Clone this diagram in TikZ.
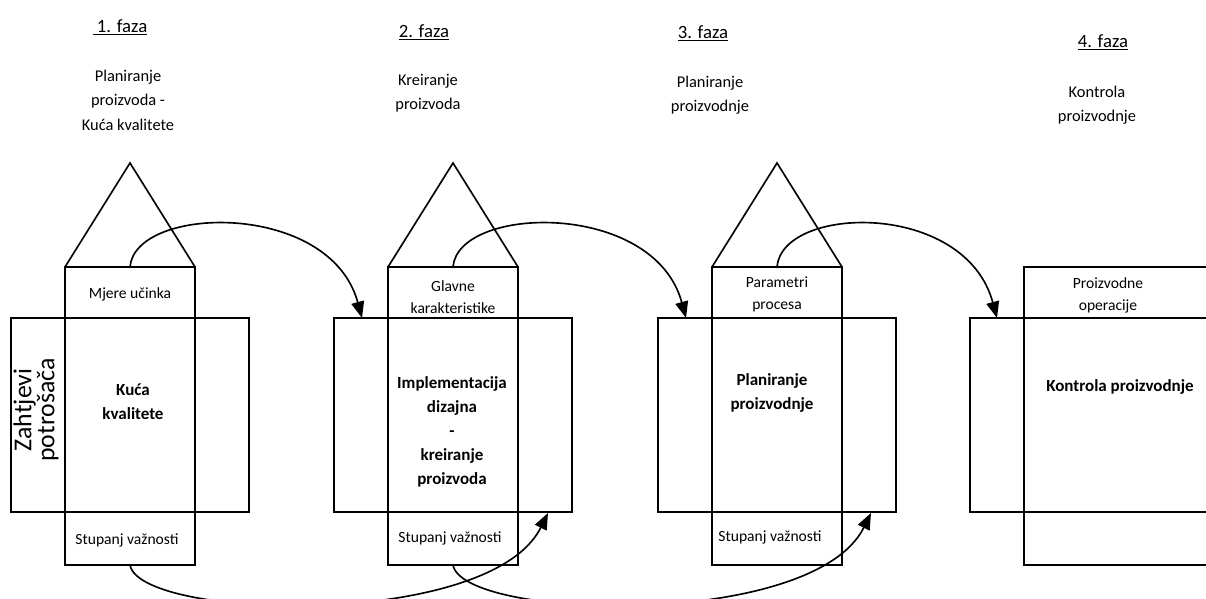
\documentclass[tikz,border=0pt]{standalone}
\usepackage{fontspec}
\setmainfont{Carlito}
\usetikzlibrary{arrows.meta}

\begin{document}
\begin{tikzpicture}[x=0.03cm,y=-0.03cm,line width=1.4pt,
    faza/.style={font=\fontsize{16}{18}\selectfont},
    opis/.style={font=\fontsize{14}{20.8}\selectfont,align=center},
    mali/.style={font=\fontsize{13.3}{18.7}\selectfont,align=center},
    glavni/.style={font=\bfseries\fontsize{14.5}{20.5}\selectfont,align=center},
    tok/.style={-{Triangle[length=14pt,width=11pt]}}]
    \useasboundingbox (0,0) rectangle (1206,599);
    \clip (0,0) rectangle (1206,599);

    % faze 1-3: krov, stupac i velika kutija
    \foreach \x/\i in {130/1,453/2,777/3}{
        \draw (\x-65,267)--(\x,163)--(\x+65,267);
        \draw (\x-119,318) rectangle (\x+119,512);
        \draw (\x-65,267) rectangle (\x+65,565);
        \coordinate (gore\i) at (\x,267);
        \coordinate (dolje\i) at (\x,565);
    }
    % faza 4, odrezana desno
    \draw (1206,318)--(970,318)--(970,512)--(1206,512);
    \draw (1206,267)--(1024,267)--(1024,565)--(1206,565);

    \coordinate (ulaz2) at (362,318);
    \coordinate (ulaz3) at (686,318);
    \coordinate (ulaz4) at (997,318);
    \coordinate (kut2) at (548,513);
    \coordinate (kut3) at (871,513);

    \draw[tok] (gore1) .. controls +(5,-62) and +(-32,-118) .. (ulaz2);
    \draw[tok] (gore2) .. controls +(5,-62) and +(-32,-118) .. (ulaz3);
    \draw[tok] (gore3) .. controls +(5,-62) and +(-32,-118) .. (ulaz4);
    \draw[tok] (dolje1) .. controls +(10,55) and +(-58,117) .. (kut2);
    \draw[tok] (dolje2) .. controls +(10,55) and +(-58,117) .. (kut3);

    \node[faza] (f1) at (120,27) {\underline{\ 1. faza}};
    \node[faza] (f2) at (424,32) {\underline{2. faza}};
    \node[faza] (f3) at (703,33) {\underline{3. faza}};
    \node[faza] (f4) at (1103,42) {\underline{4. faza}};

    \node[opis] (o1) at (128,100) {Planiranje\\proizvoda -\\Kuća kvalitete};
    \node[opis] (o2) at (428,93) {Kreiranje\\proizvoda};
    \node[opis] (o3) at (710,95) {Planiranje\\proizvodnje};
    \node[opis] (o4) at (1097,105) {Kontrola\\proizvodnje};

    \node[mali] (m1) at (130,294) {Mjere učinka};
    \node[mali] (m2) at (453,297) {Glavne\\karakteristike};
    \node[mali] (m3) at (777,294) {Parametri\\procesa};
    \node[mali] (m4) at (1108,295) {Proizvodne\\operacije};

    \node[glavni] (k1) at (133,402) {Kuća\\kvalitete};
    \node[glavni] (k2) at (452,432) {Implementacija\\dizajna\\-\\kreiranje\\proizvoda};
    \node[glavni] (k3) at (772,393) {Planiranje\\proizvodnje};
    \node[glavni] (k4) at (1120,387) {Kontrola proizvodnje};

    \node[mali] (s1) at (127,540) {Stupanj važnosti};
    \node[mali] (s2) at (450,538) {Stupanj važnosti};
    \node[mali] (s3) at (770,537) {Stupanj važnosti};

    \node[font=\fontsize{22}{17}\selectfont,align=center,rotate=90] (zp) at (36,410) {Zahtjevi\\potrošača};
\end{tikzpicture}
\end{document}
